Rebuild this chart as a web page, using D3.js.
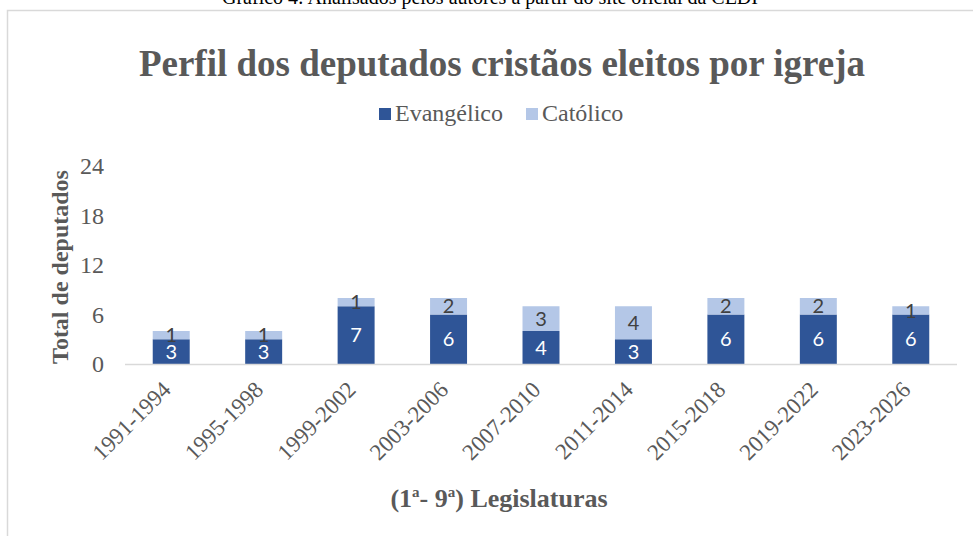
<!DOCTYPE html>
<html><head><meta charset="utf-8">
<script src="https://cdn.jsdelivr.net/npm/d3@7"></script>
<style>body{margin:0;background:#fff}svg{display:block}</style>
</head><body>
<script>
const categories = ["1991-1994","1995-1998","1999-2002","2003-2006","2007-2010","2011-2014","2015-2018","2019-2022","2023-2026"];
const evangelico = [3,3,7,6,4,3,6,6,6];
const catolico = [1,1,1,2,3,4,2,2,1];
const seriesNames = ["Evangélico","Católico"];
const yTicks = [0,6,12,18,24];

const W=973,H=536;
const svg=d3.select("body").append("svg").attr("width",W).attr("height",H);
const serif="'Liberation Serif','Times New Roman',serif";
const sans="Lato,'Open Sans',sans-serif";
const gray="#595959";
const colors=["#2F5597","#B4C7E7"];

svg.append("text").attr("x",490).attr("y",4).attr("text-anchor","middle")
 .attr("font-family",serif).attr("font-size",20).attr("fill","#000")
 .text("Gráfico 4: Analisados pelos autores a partir do site oficial da CEDI");
svg.append("rect").attr("x",7.5).attr("y",10.5).attr("width",980).attr("height",600)
 .attr("fill","#fff").attr("stroke","#d9d9d9").attr("stroke-width",1.5);

const x=d3.scaleBand().domain(categories).range([125,957]).paddingInner(0.6).paddingOuter(0.3);
const y=d3.scaleLinear().domain([0,24]).range([364,166]);

svg.append("text").attr("x",502).attr("y",76).attr("text-anchor","middle")
 .attr("font-family",serif).attr("font-weight","bold").attr("font-size",37).attr("fill",gray)
 .text("Perfil dos deputados cristãos eleitos por igreja");

// legend
const leg=[{x:379,name:seriesNames[0],c:colors[0]},{x:526,name:seriesNames[1],c:colors[1]}];
leg.forEach(l=>{
 svg.append("rect").attr("x",l.x).attr("y",108).attr("width",12).attr("height",12).attr("fill",l.c);
 svg.append("text").attr("x",l.x+16).attr("y",121).attr("font-family",serif).attr("font-size",24).attr("fill",gray).text(l.name);
});

// y axis
const yAxis=d3.axisLeft(y).tickValues(yTicks).tickSize(0).tickPadding(0);
const ga=svg.append("g").attr("transform","translate(104,0)").call(yAxis);
ga.select(".domain").remove();
ga.selectAll("text").attr("font-family",serif).attr("font-size",24).attr("fill",gray).attr("dy","0.33em");

svg.append("text").attr("transform","translate(68,267) rotate(-90)").attr("text-anchor","middle")
 .attr("font-family",serif).attr("font-weight","bold").attr("font-size",24).attr("fill",gray)
 .text("Total de deputados");

// bars
const data=categories.map((c,i)=>({c,e:evangelico[i],k:catolico[i]}));
const stack=d3.stack().keys(["e","k"])(data);
stack.forEach((s,si)=>{
 svg.append("g").selectAll("rect").data(s).join("rect")
  .attr("x",d=>x(d.data.c)).attr("width",x.bandwidth())
  .attr("y",d=>y(d[1])).attr("height",d=>y(d[0])-y(d[1])).attr("fill",colors[si]);
});
// baseline
svg.append("line").attr("x1",125).attr("x2",957).attr("y1",364.5).attr("y2",364.5).attr("stroke","#d9d9d9").attr("stroke-width",1.5);
// labels
stack.forEach((s,si)=>{
 svg.append("g").selectAll("text").data(s).join("text")
  .attr("x",d=>x(d.data.c)+x.bandwidth()/2).attr("y",d=>(y(d[0])+y(d[1]))/2)
  .attr("dy","0.36em").attr("text-anchor","middle")
  .attr("font-family",sans).attr("font-size",20).attr("fill",si===0?"#fff":"#404040")
  .text(d=>d[1]-d[0]);
});

// x axis labels
const xAxis=d3.axisBottom(x).tickSize(0).tickPadding(0);
const gx=svg.append("g").attr("transform","translate(0,391)").call(xAxis);
gx.select(".domain").remove();
gx.selectAll("text").attr("font-family",serif).attr("font-size",23).attr("fill",gray)
 .attr("text-anchor","end").attr("dy",0).attr("y",0).attr("x",0)
 .attr("transform","translate(1,0) rotate(-45)");

const xt=svg.append("text").attr("x",499).attr("y",507).attr("text-anchor","middle")
 .attr("font-family",serif).attr("font-weight","bold").attr("font-size",26).attr("fill",gray);
xt.append("tspan").text("(1");
xt.append("tspan").attr("font-size",15).attr("dy",-10).text("a");
xt.append("tspan").attr("dy",10).text("- 9");
xt.append("tspan").attr("font-size",15).attr("dy",-10).text("a");
xt.append("tspan").attr("dy",10).text(") Legislaturas");
</script>
</body></html>
